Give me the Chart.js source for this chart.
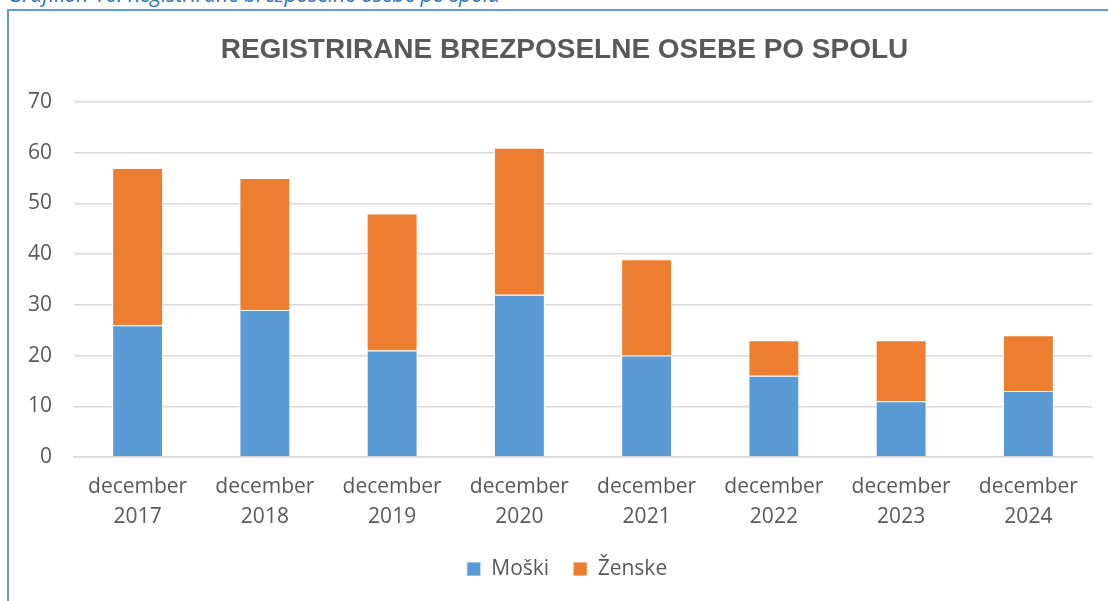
<!DOCTYPE html>
<html>
<head>
<meta charset="utf-8">
<script src="https://cdn.jsdelivr.net/npm/chart.js@4/dist/chart.umd.min.js"></script>
<style>
  html, body { margin: 0; padding: 0; background: #fff; overflow: hidden; width: 1108px; height: 601px; }
  #caption {
    position: absolute; left: 8px; top: -16px;
    font: italic 21px/1 'Open Sans', sans-serif; color: #2E75B6; white-space: nowrap;
  }
  #frame {
    position: absolute; left: 7px; top: 9px; width: 1111px; height: 600px;
    border-left: 2px solid #5B9BD5; border-top: 2px solid #5B9BD5;
  }
  #frame canvas { display: block; }
</style>
</head>
<body>
<div id="caption">Grafikon 16: Registrirane brezposelne osebe po spolu</div>
<div id="frame"><canvas id="chart" width="1111" height="590"></canvas></div>
<script>
'use strict';

/* ---------- data ---------- */
const chartTitle = 'REGISTRIRANE BREZPOSELNE OSEBE PO SPOLU';
const categories = [
  ['december', '2017'], ['december', '2018'], ['december', '2019'], ['december', '2020'],
  ['december', '2021'], ['december', '2022'], ['december', '2023'], ['december', '2024']
];
const seriesNames = ['Moški', 'Ženske'];
const moski  = [26, 29, 21, 32, 20, 16, 11, 13];
const zenske = [31, 26, 27, 29, 19, 7, 12, 11];
const yTicks = [0, 10, 20, 30, 40, 50, 60, 70];

/* ---------- style ---------- */
const TEXT = '#595959';
const GRID = '#d9d9d9';
const FONT = "'Open Sans', sans-serif";

// chart title drawn above the plot area
const titlePlugin = {
  id: 'boxTitle',
  afterLayout(chart) {
    // legend is centred on the whole chart box in the original, not the plot
    if (chart.legend) chart.legend.left += 33;
  },
  afterDraw(chart) {
    const ctx = chart.ctx;
    ctx.save();
    ctx.font = "bold 28px 'Liberation Sans', Arial, sans-serif";
    ctx.fillStyle = TEXT;
    ctx.textAlign = 'center';
    ctx.textBaseline = 'middle';
    ctx.fillText(chartTitle, chart.width / 2, 39);
    ctx.restore();
  }
};

const barStyle = {
  stack: 'a',
  barPercentage: 0.4,
  categoryPercentage: 1,
  borderWidth: { top: 1, left: 1, right: 1, bottom: 0 },
  borderColor: '#ffffff',
  borderSkipped: false
};

new Chart(document.getElementById('chart'), {
  type: 'bar',
  data: {
    labels: categories,
    datasets: [
      { ...barStyle, label: seriesNames[0], data: moski,  backgroundColor: '#5B9BD5' },
      { ...barStyle, label: seriesNames[1], data: zenske, backgroundColor: '#ED7D31' }
    ]
  },
  options: {
    responsive: false,
    animation: false,
    layout: { padding: { top: 91, right: 28, bottom: 11.5, left: 0 } },
    plugins: {
      title: { display: false },
      tooltip: { enabled: false },
      legend: {
        position: 'bottom',
        labels: {
          color: TEXT,
          font: { family: FONT, size: 21 },
          boxWidth: 14,
          boxHeight: 14,
          padding: 24
        }
      }
    },
    scales: {
      x: {
        stacked: true,
        grid: { display: false, drawTicks: false },
        border: { display: true, color: GRID, width: 1.5 },
        ticks: {
          color: TEXT,
          font: { family: FONT, size: 21, lineHeight: 1.43 },
          padding: 15,
          maxRotation: 0
        },
        afterFit(scale) { scale.height = 77.5; }
      },
      y: {
        stacked: true,
        min: yTicks[0],
        max: yTicks[yTicks.length - 1],
        afterBuildTicks(scale) { scale.ticks = yTicks.map(v => ({ value: v })); },
        grid: { color: GRID, lineWidth: 1.5, drawTicks: false },
        border: { display: false },
        ticks: {
          color: TEXT,
          font: { family: FONT, size: 21 },
          padding: 22
        },
        afterFit(scale) { scale.width = 65; }
      }
    }
  },
  plugins: [titlePlugin]
});
</script>
</body>
</html>
